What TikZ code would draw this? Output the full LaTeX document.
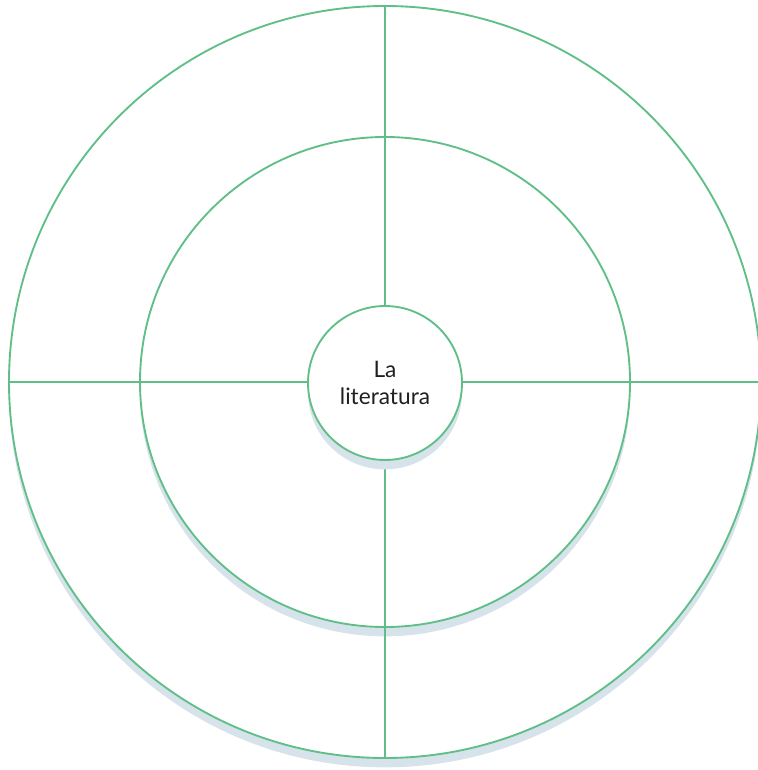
\documentclass[tikz,border=0pt]{standalone}
\usepackage{xcolor}
\usepackage{fontspec}
\setmainfont{Lato}
\usepackage{tikz}
\usetikzlibrary{shapes,positioning,shadows,backgrounds}

\definecolor{ringgreen}{RGB}{96,191,136}
\definecolor{shadowblue}{RGB}{214,227,234}
\definecolor{textdark}{RGB}{35,31,32}

\begin{document}
\begin{tikzpicture}[x=0.75pt,y=-0.75pt,
  ring/.style={circle,draw=ringgreen,line width=1.4pt,fill=white,inner sep=0pt,
    general shadow={fill=shadowblue,shadow yshift=-7pt}},
  axis/.style={draw=ringgreen,line width=1.4pt}]
\useasboundingbox (0,0) rectangle (757,770);
\node[ring,minimum size=564pt] (outer) at (385,382) {};
\node[ring,minimum size=367.5pt] (inner) at (385,382) {};
\draw[axis] (outer.north) -- (outer.south);
\draw[axis] (outer.west) -- (outer.east);
\node[ring,minimum size=115.5pt,align=center,text=textdark,
      font=\fontsize{17}{20}\selectfont] (core) at (385,383) {La\\literatura};
\end{tikzpicture}
\end{document}
